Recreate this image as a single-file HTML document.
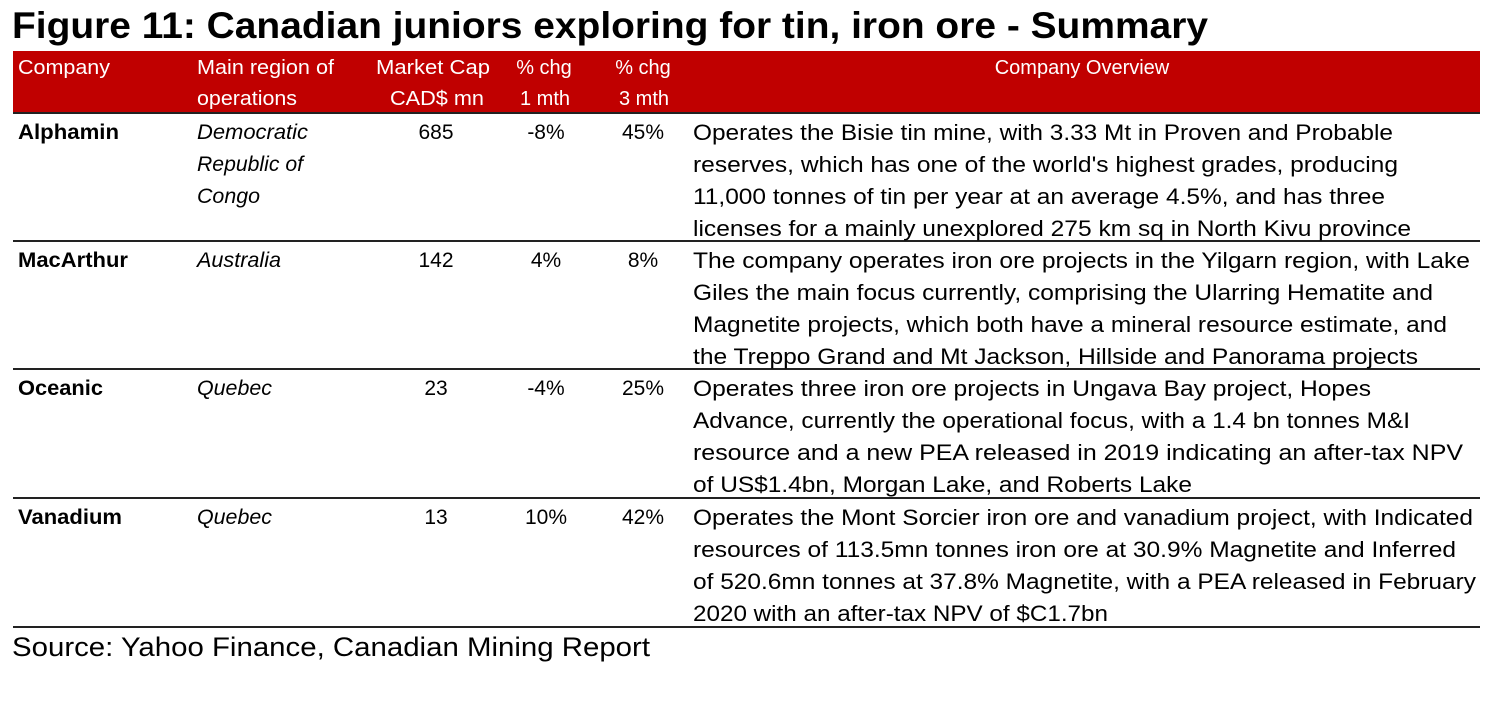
<!DOCTYPE html>
<html><head><meta charset="utf-8"><style>
html,body{margin:0;padding:0;background:#fff;}
svg{display:block;}
text{font-family:"Liberation Sans",Arial,sans-serif;}
.h{fill:#fff;font-size:20px;}
.b{fill:#000;font-size:22px;}
.l{fill:#000;font-size:21px;}
</style></head><body>
<svg width="1503" height="704" viewBox="0 0 1503 704" xmlns="http://www.w3.org/2000/svg">
<text x="12" y="38" font-size="37" font-weight="bold" textLength="1196" lengthAdjust="spacingAndGlyphs">Figure 11: Canadian juniors exploring for tin, iron ore - Summary</text>
<rect x="13" y="51" width="1467" height="61" fill="#c00000"/>
<text class="h" x="18" y="74" textLength="92" lengthAdjust="spacingAndGlyphs">Company</text>
<text class="h" x="197" y="74" textLength="137" lengthAdjust="spacingAndGlyphs">Main region of</text>
<text class="h" x="197" y="105" textLength="100" lengthAdjust="spacingAndGlyphs">operations</text>
<text class="h" x="376" y="74" textLength="114" lengthAdjust="spacingAndGlyphs">Market Cap</text>
<text class="h" x="390" y="105" textLength="94" lengthAdjust="spacingAndGlyphs">CAD$ mn</text>
<text class="h" x="544" y="74" text-anchor="middle">% chg</text>
<text class="h" x="545" y="105" text-anchor="middle">1 mth</text>
<text class="h" x="643" y="74" text-anchor="middle">% chg</text>
<text class="h" x="644" y="105" text-anchor="middle">3 mth</text>
<text class="h" x="1082" y="74" text-anchor="middle">Company Overview</text>
<g fill="#222">
<rect x="13" y="112" width="1467" height="2"/>
<rect x="13" y="240" width="1467" height="2"/>
<rect x="13" y="368" width="1467" height="2"/>
<rect x="13" y="497" width="1467" height="2"/>
<rect x="13" y="626" width="1467" height="2"/>
</g>
<!-- Row 1 -->
<text class="l" x="18" y="139" font-weight="bold" textLength="101" lengthAdjust="spacingAndGlyphs">Alphamin</text>
<text class="l" x="197" y="139" font-style="italic" textLength="111" lengthAdjust="spacingAndGlyphs">Democratic</text>
<text class="l" x="197" y="171" font-style="italic" textLength="106" lengthAdjust="spacingAndGlyphs">Republic of</text>
<text class="l" x="197" y="203" font-style="italic" textLength="63" lengthAdjust="spacingAndGlyphs">Congo</text>
<text class="l" x="436" y="139" text-anchor="middle">685</text>
<text class="l" x="546" y="139" text-anchor="middle">-8%</text>
<text class="l" x="643" y="139" text-anchor="middle">45%</text>
<text class="b" x="693" y="140" textLength="700" lengthAdjust="spacingAndGlyphs">Operates the Bisie tin mine, with 3.33 Mt in Proven and Probable</text>
<text class="b" x="693" y="172" textLength="705" lengthAdjust="spacingAndGlyphs">reserves, which has one of the world's highest grades, producing</text>
<text class="b" x="693" y="204" textLength="692" lengthAdjust="spacingAndGlyphs">11,000 tonnes of tin per year at an average 4.5%, and has three</text>
<text class="b" x="693" y="236" textLength="718" lengthAdjust="spacingAndGlyphs">licenses for a mainly unexplored 275 km sq in North Kivu province</text>
<!-- Row 2 -->
<text class="l" x="18" y="267" font-weight="bold" textLength="110" lengthAdjust="spacingAndGlyphs">MacArthur</text>
<text class="l" x="197" y="267" font-style="italic" textLength="84" lengthAdjust="spacingAndGlyphs">Australia</text>
<text class="l" x="436" y="267" text-anchor="middle">142</text>
<text class="l" x="546" y="267" text-anchor="middle">4%</text>
<text class="l" x="643" y="267" text-anchor="middle">8%</text>
<text class="b" x="693" y="268" textLength="777" lengthAdjust="spacingAndGlyphs">The company operates iron ore projects in the Yilgarn region, with Lake</text>
<text class="b" x="693" y="300" textLength="740" lengthAdjust="spacingAndGlyphs">Giles the main focus currently, comprising the Ularring Hematite and</text>
<text class="b" x="693" y="332" textLength="754" lengthAdjust="spacingAndGlyphs">Magnetite projects, which both have a mineral resource estimate, and</text>
<text class="b" x="693" y="364" textLength="725" lengthAdjust="spacingAndGlyphs">the Treppo Grand and Mt Jackson, Hillside and Panorama projects</text>
<!-- Row 3 -->
<text class="l" x="18" y="395" font-weight="bold" textLength="85" lengthAdjust="spacingAndGlyphs">Oceanic</text>
<text class="l" x="197" y="395" font-style="italic" textLength="75" lengthAdjust="spacingAndGlyphs">Quebec</text>
<text class="l" x="436" y="395" text-anchor="middle">23</text>
<text class="l" x="546" y="395" text-anchor="middle">-4%</text>
<text class="l" x="643" y="395" text-anchor="middle">25%</text>
<text class="b" x="693" y="396" textLength="678" lengthAdjust="spacingAndGlyphs">Operates three iron ore projects in Ungava Bay project, Hopes</text>
<text class="b" x="693" y="428" textLength="717" lengthAdjust="spacingAndGlyphs">Advance, currently the operational focus, with a 1.4 bn tonnes M&amp;I</text>
<text class="b" x="693" y="460" textLength="770" lengthAdjust="spacingAndGlyphs">resource and a new PEA released in  2019 indicating an after-tax NPV</text>
<text class="b" x="693" y="492" textLength="499" lengthAdjust="spacingAndGlyphs">of US$1.4bn, Morgan Lake, and Roberts Lake</text>
<!-- Row 4 -->
<text class="l" x="18" y="524" font-weight="bold" textLength="104" lengthAdjust="spacingAndGlyphs">Vanadium</text>
<text class="l" x="197" y="524" font-style="italic" textLength="75" lengthAdjust="spacingAndGlyphs">Quebec</text>
<text class="l" x="436" y="524" text-anchor="middle">13</text>
<text class="l" x="546" y="524" text-anchor="middle">10%</text>
<text class="l" x="643" y="524" text-anchor="middle">42%</text>
<text class="b" x="693" y="525" textLength="780" lengthAdjust="spacingAndGlyphs">Operates the Mont Sorcier iron ore and vanadium project, with Indicated</text>
<text class="b" x="693" y="557" textLength="763" lengthAdjust="spacingAndGlyphs">resources of 113.5mn tonnes iron ore at 30.9% Magnetite and Inferred</text>
<text class="b" x="693" y="589" textLength="783" lengthAdjust="spacingAndGlyphs">of 520.6mn tonnes at 37.8% Magnetite, with a PEA released in February</text>
<text class="b" x="693" y="621" textLength="415" lengthAdjust="spacingAndGlyphs">2020 with an after-tax NPV of $C1.7bn</text>
<text x="12" y="656" font-size="27" textLength="638" lengthAdjust="spacingAndGlyphs">Source: Yahoo Finance, Canadian Mining Report</text>
</svg>
</body></html>
